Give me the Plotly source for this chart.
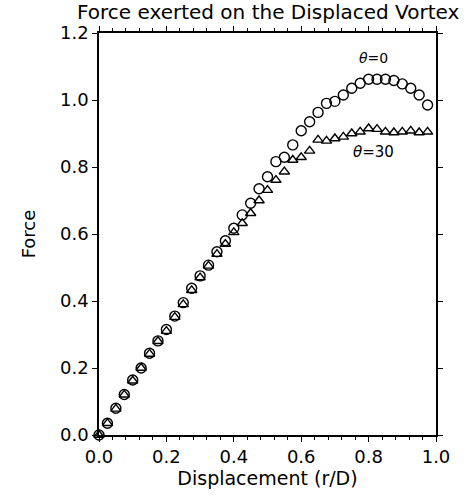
import plotly.graph_objects as go

x_disp = [0.0, 0.025, 0.05, 0.075, 0.1, 0.125, 0.15, 0.175, 0.2, 0.225,
          0.25, 0.275, 0.3, 0.325, 0.35, 0.375, 0.4, 0.425, 0.45, 0.475,
          0.5, 0.525, 0.55, 0.575, 0.6, 0.625, 0.65, 0.675, 0.7, 0.725,
          0.75, 0.775, 0.8, 0.825, 0.85, 0.875, 0.9, 0.925, 0.95, 0.975]

force_theta0 = [0.0, 0.035, 0.08, 0.121, 0.164, 0.20, 0.244, 0.281, 0.315, 0.355,
                0.395, 0.438, 0.475, 0.507, 0.547, 0.58, 0.617, 0.657, 0.692, 0.735,
                0.771, 0.816, 0.829, 0.866, 0.908, 0.935, 0.963, 0.99, 0.996, 1.015,
                1.035, 1.05, 1.062, 1.062, 1.062, 1.058, 1.048, 1.035, 1.015, 0.985]

force_theta30 = [0.0, 0.035, 0.078, 0.12, 0.162, 0.20, 0.242, 0.28, 0.31, 0.352,
                 0.39, 0.432, 0.47, 0.505, 0.54, 0.57, 0.605, 0.632, 0.662, 0.70,
                 0.731, 0.761, 0.786, 0.821, 0.829, 0.848, 0.881, 0.878, 0.885, 0.89,
                 0.90, 0.905, 0.915, 0.913, 0.905, 0.903, 0.905, 0.908, 0.903, 0.905]

x_ticks = [0.0, 0.2, 0.4, 0.6, 0.8, 1.0]
y_ticks = [0.0, 0.2, 0.4, 0.6, 0.8, 1.0, 1.2]

FONT = "DejaVu Sans"

fig = go.Figure()
fig.add_trace(go.Scatter(x=x_disp, y=force_theta0, mode="markers",
                         marker=dict(symbol="circle-open", size=10,
                                     color="black", line=dict(width=1.4)),
                         name="θ=0", cliponaxis=False))
fig.add_trace(go.Scatter(x=x_disp, y=force_theta30, mode="markers",
                         marker=dict(symbol="triangle-up-open", size=9,
                                     color="black", line=dict(width=1.4)),
                         name="θ=30", cliponaxis=False))

fig.add_annotation(x=0.815, y=1.125, text="<i>θ</i>=0", showarrow=False,
                   font=dict(family=FONT, size=14, color="black"))
fig.add_annotation(x=0.815, y=0.845, text="<i>θ</i>=30", showarrow=False,
                   font=dict(family=FONT, size=15, color="black"))

# chart title as a paper-anchored annotation
fig.add_annotation(x=0.5, y=1.0, xref="paper", yref="paper",
                   xanchor="center", yanchor="middle", yshift=21,
                   text="Force exerted on the Displaced Vortex", showarrow=False,
                   font=dict(family=FONT, size=20, color="black"))

axis_common = dict(showgrid=False, zeroline=False, showline=True,
                   linecolor="black", linewidth=1.5, mirror="ticks",
                   ticks="outside", ticklen=5, tickwidth=1.2, tickcolor="black",
                   tickfont=dict(family=FONT, size=18, color="black"))

fig.update_xaxes(range=[0, 1.0], tickvals=x_ticks,
                 ticktext=[f"{v:.1f}" for v in x_ticks],
                 minor=dict(dtick=0.04, ticks="outside", ticklen=3,
                            tickcolor="black", showgrid=False),
                 title=dict(text="Displacement (r/D)", standoff=4,
                            font=dict(family=FONT, size=19, color="black")),
                 **axis_common)
fig.update_yaxes(range=[0, 1.2], tickvals=y_ticks,
                 ticktext=[f"{v:.1f}" for v in y_ticks],
                 title=dict(text="Force", standoff=20,
                            font=dict(family=FONT, size=18, color="black")),
                 **axis_common)

fig.update_layout(
    width=467, height=498,
    margin=dict(l=99, r=31, t=33, b=63),
    paper_bgcolor="white", plot_bgcolor="white",
    showlegend=False,
)

fig.write_html("out.html")
